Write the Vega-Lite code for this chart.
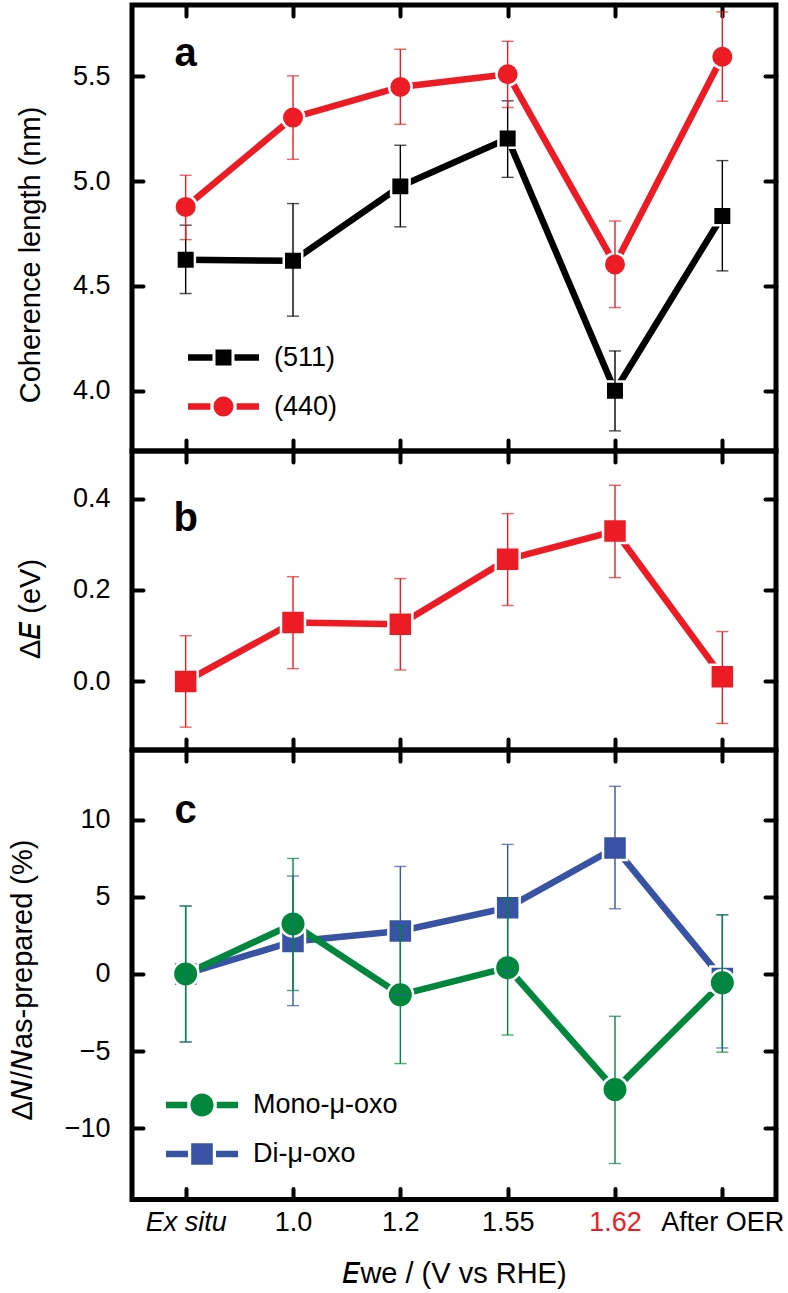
{
  "$schema": "https://vega.github.io/schema/vega-lite/v6.json",
  "background": "white",
  "padding": {"left": 5, "top": 0, "right": 0, "bottom": 0},
  "autosize": {"type": "pad"},
  "bounds": "flush",
  "spacing": 0,
  "datasets": {
    "coh": [
      {"E": "Ex situ", "series": "(511)", "value": 4.625, "lo": 4.464, "hi": 4.790},
      {"E": "1.0", "series": "(511)", "value": 4.620, "lo": 4.356, "hi": 4.893},
      {"E": "1.2", "series": "(511)", "value": 4.975, "lo": 4.782, "hi": 5.171},
      {"E": "1.55", "series": "(511)", "value": 5.203, "lo": 5.018, "hi": 5.383},
      {"E": "1.62", "series": "(511)", "value": 4.000, "lo": 3.809, "hi": 4.190},
      {"E": "After OER", "series": "(511)", "value": 4.834, "lo": 4.572, "hi": 5.098},
      {"E": "Ex situ", "series": "(440)", "value": 4.877, "lo": 4.721, "hi": 5.028},
      {"E": "1.0", "series": "(440)", "value": 5.303, "lo": 5.104, "hi": 5.502},
      {"E": "1.2", "series": "(440)", "value": 5.449, "lo": 5.271, "hi": 5.629},
      {"E": "1.55", "series": "(440)", "value": 5.510, "lo": 5.351, "hi": 5.667},
      {"E": "1.62", "series": "(440)", "value": 4.603, "lo": 4.397, "hi": 4.810},
      {"E": "After OER", "series": "(440)", "value": 5.593, "lo": 5.381, "hi": 5.807}
    ],
    "dE": [
      {"E": "Ex situ", "series": "dE", "value": 0.000, "lo": -0.100, "hi": 0.100},
      {"E": "1.0", "series": "dE", "value": 0.129, "lo": 0.028, "hi": 0.229},
      {"E": "1.2", "series": "dE", "value": 0.125, "lo": 0.025, "hi": 0.225},
      {"E": "1.55", "series": "dE", "value": 0.267, "lo": 0.166, "hi": 0.367},
      {"E": "1.62", "series": "dE", "value": 0.329, "lo": 0.227, "hi": 0.429},
      {"E": "After OER", "series": "dE", "value": 0.010, "lo": -0.092, "hi": 0.109}
    ],
    "dN": [
      {"E": "Ex situ", "series": "Di-μ-oxo", "value": 0.00, "lo": -4.40, "hi": 4.40},
      {"E": "1.0", "series": "Di-μ-oxo", "value": 2.10, "lo": -2.05, "hi": 6.34},
      {"E": "1.2", "series": "Di-μ-oxo", "value": 2.78, "lo": -1.37, "hi": 6.96},
      {"E": "1.55", "series": "Di-μ-oxo", "value": 4.29, "lo": 0.16, "hi": 8.39},
      {"E": "1.62", "series": "Di-μ-oxo", "value": 8.16, "lo": 4.22, "hi": 12.15},
      {"E": "After OER", "series": "Di-μ-oxo", "value": -0.30, "lo": -4.79, "hi": 3.83},
      {"E": "Ex situ", "series": "Mono-μ-oxo", "value": 0.00, "lo": -4.40, "hi": 4.40},
      {"E": "1.0", "series": "Mono-μ-oxo", "value": 3.24, "lo": -1.07, "hi": 7.48},
      {"E": "1.2", "series": "Mono-μ-oxo", "value": -1.35, "lo": -5.80, "hi": 3.10},
      {"E": "1.55", "series": "Mono-μ-oxo", "value": 0.41, "lo": -3.95, "hi": 4.83},
      {"E": "1.62", "series": "Mono-μ-oxo", "value": -7.48, "lo": -12.27, "hi": -2.74},
      {"E": "After OER", "series": "Mono-μ-oxo", "value": -0.57, "lo": -5.06, "hi": 3.83}
    ],
    "labA": [{"E": "Ex situ", "value": 5.55, "label": "a"}],
    "labB": [{"E": "Ex situ", "value": 0.33, "label": "b"}],
    "labC": [{"E": "Ex situ", "value": 9.8, "label": "c"}]
  },
  "resolve": {"scale": {"color": "independent", "shape": "independent"}, "legend": {"color": "independent", "shape": "independent"}},
  "vconcat": [
    {
      "width": 644,
      "height": 446,
      "resolve": {"axis": {"x": "independent", "y": "independent"}},
      "layer": [
        {
          "data": {"name": "coh"},
          "mark": {"type": "line", "strokeWidth": 6.5, "strokeCap": "round"},
          "encoding": {
            "x": {"field": "E", "type": "ordinal", "sort": ["Ex situ", "1.0", "1.2", "1.55", "1.62", "After OER"], "scale": {"type": "point", "padding": 0.5, "domain": ["Ex situ", "1.0", "1.2", "1.55", "1.62", "After OER"]}, "axis": {"orient": "bottom", "labels": false, "title": null}},
            "y": {"field": "value", "type": "quantitative", "scale": {"domain": [3.713, 5.84], "nice": false, "zero": false}, "axis": {"orient": "left", "values": [4, 4.5, 5, 5.5], "format": ".1f", "title": "Coherence length (nm)", "titleY": 249.5}},
            "color": {"field": "series", "type": "nominal", "scale": {"domain": ["(511)", "(440)"], "range": ["#000000", "#ed1c24"]}}
          }
        },
        {
          "data": {"name": "coh"},
          "transform": [{"filter": "datum.series === '(511)'"}],
          "mark": {"type": "point", "filled": true, "opacity": 1, "shape": "square", "size": 342, "stroke": "white", "strokeWidth": 2.5},
          "encoding": {
            "x": {"field": "E", "type": "ordinal", "scale": {"type": "point", "padding": 0.5, "domain": ["Ex situ", "1.0", "1.2", "1.55", "1.62", "After OER"]}, "axis": {"orient": "top", "labels": false, "title": null}},
            "y": {"field": "value", "type": "quantitative", "scale": {"domain": [3.713, 5.84], "nice": false, "zero": false}, "axis": {"orient": "right", "values": [4, 4.5, 5, 5.5], "labels": false, "title": null}},
            "color": {"field": "series", "type": "nominal", "scale": {"domain": ["(511)", "(440)"], "range": ["#000000", "#ed1c24"]}}
          }
        },
        {
          "data": {"name": "coh"},
          "transform": [{"filter": "datum.series === '(440)'"}],
          "mark": {"type": "point", "filled": true, "opacity": 1, "shape": "circle", "size": 506, "stroke": "white", "strokeWidth": 2.5},
          "encoding": {
            "x": {"field": "E", "type": "ordinal", "scale": {"type": "point", "padding": 0.5, "domain": ["Ex situ", "1.0", "1.2", "1.55", "1.62", "After OER"]}, "axis": null},
            "y": {"field": "value", "type": "quantitative", "scale": {"domain": [3.713, 5.84], "nice": false, "zero": false}, "axis": null},
            "color": {"field": "series", "type": "nominal", "scale": {"domain": ["(511)", "(440)"], "range": ["#000000", "#ed1c24"]}}
          }
        },
        {
          "data": {"name": "coh"},
          "mark": {"type": "errorbar", "thickness": 1.4, "ticks": {"size": 12, "thickness": 1.4}},
          "encoding": {
            "x": {"field": "E", "type": "ordinal", "scale": {"type": "point", "padding": 0.5, "domain": ["Ex situ", "1.0", "1.2", "1.55", "1.62", "After OER"]}, "axis": null},
            "y": {"field": "lo", "type": "quantitative", "scale": {"domain": [3.713, 5.84], "nice": false, "zero": false}, "axis": null},
            "y2": {"field": "hi"},
            "color": {"field": "series", "type": "nominal", "scale": {"domain": ["(511)", "(440)"], "range": ["#000000", "#ed1c24"]}}
          }
        },
        {
          "data": {"name": "labA"},
          "mark": {"type": "text", "fontSize": 40, "fontWeight": "bold", "font": "Liberation Sans", "align": "center", "baseline": "alphabetic", "color": "black"},
          "encoding": {
            "x": {"field": "E", "type": "ordinal", "scale": {"type": "point", "padding": 0.5, "domain": ["Ex situ", "1.0", "1.2", "1.55", "1.62", "After OER"]}, "axis": null},
            "y": {"field": "value", "type": "quantitative", "scale": {"domain": [3.713, 5.84], "nice": false, "zero": false}, "axis": null},
            "text": {"field": "label"}
          }
        },
        {
          "data": {"name": "coh"},
          "transform": [{"filter": "false"}],
          "mark": {"type": "point", "filled": true, "opacity": 1},
          "encoding": {
            "x": {"field": "E", "type": "ordinal", "scale": {"type": "point", "padding": 0.5, "domain": ["Ex situ", "1.0", "1.2", "1.55", "1.62", "After OER"]}, "axis": null},
            "y": {"field": "value", "type": "quantitative", "scale": {"domain": [3.713, 5.84], "nice": false, "zero": false}, "axis": null},
            "color": {"field": "series", "type": "nominal", "scale": {"domain": ["(511)", "(440)"], "range": ["#000000", "#ed1c24"]},
              "legend": {"orient": "none", "legendX": 56, "legendY": 317, "title": null, "padding": 0, "symbolSize": 5041, "symbolStrokeWidth": 0, "symbolOpacity": 1, "labelOffset": 15, "rowPadding": -21, "labelFontSize": 27, "labelColor": "black", "labelFont": "Liberation Sans"}},
            "shape": {"field": "series", "type": "nominal",
              "scale": {"domain": ["(511)", "(440)"], "range": [
                "M -1 -0.09 L -0.31 -0.09 L -0.31 0.09 L -1 0.09 Z M -0.225 -0.225 L 0.225 -0.225 L 0.225 0.225 L -0.225 0.225 Z M 0.31 -0.09 L 1 -0.09 L 1 0.09 L 0.31 0.09 Z",
                "M -1 -0.09 L -0.37 -0.09 L -0.37 0.09 L -1 0.09 Z M -0.28 0 A 0.28 0.28 0 1 1 0.28 0 A 0.28 0.28 0 1 1 -0.28 0 Z M 0.37 -0.09 L 1 -0.09 L 1 0.09 L 0.37 0.09 Z"]},
              "legend": {"orient": "none", "legendX": 56, "legendY": 317, "title": null, "padding": 0, "symbolSize": 5041, "symbolStrokeWidth": 0, "symbolOpacity": 1, "labelOffset": 15, "rowPadding": -21, "labelFontSize": 27, "labelColor": "black", "labelFont": "Liberation Sans"}}
          }
        }
      ]
    },
    {
      "width": 644,
      "height": 299,
      "resolve": {"axis": {"x": "independent", "y": "independent"}},
      "layer": [
        {
          "data": {"name": "dE"},
          "mark": {"type": "line", "strokeWidth": 6.5, "strokeCap": "round", "color": "#ed1c24"},
          "encoding": {
            "x": {"field": "E", "type": "ordinal", "sort": ["Ex situ", "1.0", "1.2", "1.55", "1.62", "After OER"], "scale": {"type": "point", "padding": 0.5, "domain": ["Ex situ", "1.0", "1.2", "1.55", "1.62", "After OER"]}, "axis": {"orient": "bottom", "labels": false, "title": null}},
            "y": {"field": "value", "type": "quantitative", "scale": {"domain": [-0.15, 0.504], "nice": false, "zero": false}, "axis": {"orient": "left", "values": [0, 0.2, 0.4], "format": ".1f", "title": "Δ𝘌 (eV)", "titleY": 157.5}}
          }
        },
        {
          "data": {"name": "dE"},
          "mark": {"type": "point", "filled": true, "opacity": 1, "shape": "square", "size": 576, "color": "#ed1c24", "stroke": "white", "strokeWidth": 2.5},
          "encoding": {
            "x": {"field": "E", "type": "ordinal", "scale": {"type": "point", "padding": 0.5, "domain": ["Ex situ", "1.0", "1.2", "1.55", "1.62", "After OER"]}, "axis": {"orient": "top", "labels": false, "title": null}},
            "y": {"field": "value", "type": "quantitative", "scale": {"domain": [-0.15, 0.504], "nice": false, "zero": false}, "axis": {"orient": "right", "values": [0, 0.2, 0.4], "labels": false, "title": null}}
          }
        },
        {
          "data": {"name": "dE"},
          "mark": {"type": "errorbar", "thickness": 1.4, "color": "#ed1c24", "ticks": {"size": 12, "thickness": 1.4}},
          "encoding": {
            "x": {"field": "E", "type": "ordinal", "scale": {"type": "point", "padding": 0.5, "domain": ["Ex situ", "1.0", "1.2", "1.55", "1.62", "After OER"]}, "axis": null},
            "y": {"field": "lo", "type": "quantitative", "scale": {"domain": [-0.15, 0.504], "nice": false, "zero": false}, "axis": null},
            "y2": {"field": "hi"}
          }
        },
        {
          "data": {"name": "labB"},
          "mark": {"type": "text", "fontSize": 40, "fontWeight": "bold", "font": "Liberation Sans", "align": "center", "baseline": "alphabetic", "color": "black"},
          "encoding": {
            "x": {"field": "E", "type": "ordinal", "scale": {"type": "point", "padding": 0.5, "domain": ["Ex situ", "1.0", "1.2", "1.55", "1.62", "After OER"]}, "axis": null},
            "y": {"field": "value", "type": "quantitative", "scale": {"domain": [-0.15, 0.504], "nice": false, "zero": false}, "axis": null},
            "text": {"field": "label"}
          }
        }
      ]
    },
    {
      "width": 644,
      "height": 449.5,
      "resolve": {"axis": {"x": "independent", "y": "independent"}},
      "layer": [
        {
          "data": {"name": "dN"},
          "mark": {"type": "line", "strokeWidth": 6.5, "strokeCap": "round"},
          "encoding": {
            "x": {"field": "E", "type": "ordinal", "sort": ["Ex situ", "1.0", "1.2", "1.55", "1.62", "After OER"], "scale": {"type": "point", "padding": 0.5, "domain": ["Ex situ", "1.0", "1.2", "1.55", "1.62", "After OER"]},
              "axis": {"orient": "bottom", "labels": true, "labelAngle": 0, "labelOverlap": false, "title": "𝘌we / (V vs RHE)",
                "labelColor": {"condition": {"test": "datum.value === '1.62'", "value": "#ed1c24"}, "value": "black"},
                "labelFontStyle": {"condition": {"test": "datum.value === 'Ex situ'", "value": "italic"}, "value": "normal"}}},
            "y": {"field": "value", "type": "quantitative", "scale": {"domain": [-14.6, 14.5], "nice": false, "zero": false}, "axis": {"orient": "left", "values": [-10, -5, 0, 5, 10], "title": "Δ𝘕/𝘕as-prepared (%)", "titleY": 229.5}},
            "color": {"field": "series", "type": "nominal", "scale": {"domain": ["Mono-μ-oxo", "Di-μ-oxo"], "range": ["#00873e", "#3852a4"]}}
          }
        },
        {
          "data": {"name": "dN"},
          "transform": [{"filter": "datum.series === 'Di-μ-oxo'"}],
          "mark": {"type": "point", "filled": true, "opacity": 1, "shape": "square", "size": 576, "stroke": "white", "strokeWidth": 2.5},
          "encoding": {
            "x": {"field": "E", "type": "ordinal", "scale": {"type": "point", "padding": 0.5, "domain": ["Ex situ", "1.0", "1.2", "1.55", "1.62", "After OER"]}, "axis": {"orient": "top", "labels": false, "title": null}},
            "y": {"field": "value", "type": "quantitative", "scale": {"domain": [-14.6, 14.5], "nice": false, "zero": false}, "axis": {"orient": "right", "values": [-10, -5, 0, 5, 10], "labels": false, "title": null}},
            "color": {"field": "series", "type": "nominal", "scale": {"domain": ["Mono-μ-oxo", "Di-μ-oxo"], "range": ["#00873e", "#3852a4"]}}
          }
        },
        {
          "data": {"name": "dN"},
          "transform": [{"filter": "datum.series === 'Mono-μ-oxo'"}],
          "mark": {"type": "point", "filled": true, "opacity": 1, "shape": "circle", "size": 650, "stroke": "white", "strokeWidth": 2.5},
          "encoding": {
            "x": {"field": "E", "type": "ordinal", "scale": {"type": "point", "padding": 0.5, "domain": ["Ex situ", "1.0", "1.2", "1.55", "1.62", "After OER"]}, "axis": null},
            "y": {"field": "value", "type": "quantitative", "scale": {"domain": [-14.6, 14.5], "nice": false, "zero": false}, "axis": null},
            "color": {"field": "series", "type": "nominal", "scale": {"domain": ["Mono-μ-oxo", "Di-μ-oxo"], "range": ["#00873e", "#3852a4"]}}
          }
        },
        {
          "data": {"name": "dN"},
          "mark": {"type": "errorbar", "thickness": 1.4, "ticks": {"size": 12, "thickness": 1.4}},
          "encoding": {
            "x": {"field": "E", "type": "ordinal", "scale": {"type": "point", "padding": 0.5, "domain": ["Ex situ", "1.0", "1.2", "1.55", "1.62", "After OER"]}, "axis": null},
            "y": {"field": "lo", "type": "quantitative", "scale": {"domain": [-14.6, 14.5], "nice": false, "zero": false}, "axis": null},
            "y2": {"field": "hi"},
            "color": {"field": "series", "type": "nominal", "scale": {"domain": ["Mono-μ-oxo", "Di-μ-oxo"], "range": ["#00873e", "#3852a4"]}}
          }
        },
        {
          "data": {"name": "labC"},
          "mark": {"type": "text", "fontSize": 40, "fontWeight": "bold", "font": "Liberation Sans", "align": "center", "baseline": "alphabetic", "color": "black"},
          "encoding": {
            "x": {"field": "E", "type": "ordinal", "scale": {"type": "point", "padding": 0.5, "domain": ["Ex situ", "1.0", "1.2", "1.55", "1.62", "After OER"]}, "axis": null},
            "y": {"field": "value", "type": "quantitative", "scale": {"domain": [-14.6, 14.5], "nice": false, "zero": false}, "axis": null},
            "text": {"field": "label"}
          }
        },
        {
          "data": {"name": "dN"},
          "transform": [{"filter": "false"}],
          "mark": {"type": "point", "filled": true, "opacity": 1},
          "encoding": {
            "x": {"field": "E", "type": "ordinal", "scale": {"type": "point", "padding": 0.5, "domain": ["Ex situ", "1.0", "1.2", "1.55", "1.62", "After OER"]}, "axis": null},
            "y": {"field": "value", "type": "quantitative", "scale": {"domain": [-14.6, 14.5], "nice": false, "zero": false}, "axis": null},
            "color": {"field": "series", "type": "nominal", "scale": {"domain": ["Mono-μ-oxo", "Di-μ-oxo"], "range": ["#00873e", "#3852a4"]},
              "legend": {"orient": "none", "legendX": 34, "legendY": 319, "title": null, "padding": 0, "symbolSize": 5184, "symbolStrokeWidth": 0, "symbolOpacity": 1, "labelOffset": 15, "rowPadding": -17, "labelFontSize": 27, "labelColor": "black", "labelFont": "Liberation Sans"}},
            "shape": {"field": "series", "type": "nominal",
              "scale": {"domain": ["Mono-μ-oxo", "Di-μ-oxo"], "range": [
                "M -1 -0.088 L -0.41 -0.088 L -0.41 0.088 L -1 0.088 Z M -0.32 0 A 0.32 0.32 0 1 1 0.32 0 A 0.32 0.32 0 1 1 -0.32 0 Z M 0.41 -0.088 L 1 -0.088 L 1 0.088 L 0.41 0.088 Z",
                "M -1 -0.088 L -0.39 -0.088 L -0.39 0.088 L -1 0.088 Z M -0.3 -0.3 L 0.3 -0.3 L 0.3 0.3 L -0.3 0.3 Z M 0.39 -0.088 L 1 -0.088 L 1 0.088 L 0.39 0.088 Z"]},
              "legend": {"orient": "none", "legendX": 34, "legendY": 319, "title": null, "padding": 0, "symbolSize": 5184, "symbolStrokeWidth": 0, "symbolOpacity": 1, "labelOffset": 15, "rowPadding": -17, "labelFontSize": 27, "labelColor": "black", "labelFont": "Liberation Sans"}}
          }
        }
      ]
    }
  ],
  "config": {
    "font": "Liberation Sans",
    "view": {"stroke": "black", "strokeWidth": 5},
    "axis": {
      "grid": false, "domain": false,
      "ticks": true, "tickColor": "black", "tickWidth": 4, "tickSize": -11, "tickCap": "round",
      "labelFont": "Liberation Sans", "labelFontSize": 27, "labelColor": "black",
      "titleFont": "Liberation Sans", "titleFontSize": 29, "titleFontWeight": "normal", "titleColor": "black"
    },
    "axisX": {"labelPadding": 21, "titlePadding": 24},
    "axisY": {"labelPadding": 33, "titlePadding": 27}
  }
}
